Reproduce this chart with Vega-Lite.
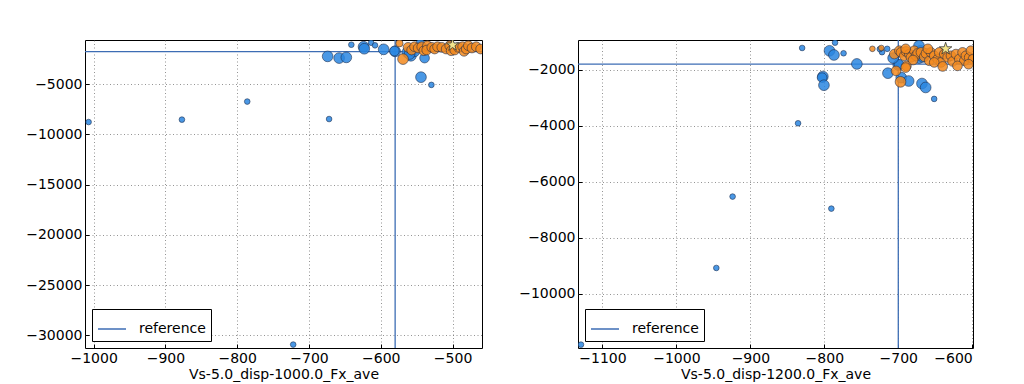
{
  "$schema": "https://vega.github.io/schema/vega-lite/v6.json",
  "background": "white",
  "padding": {"left": 25, "top": 38, "right": 0, "bottom": 0},
  "spacing": 34,
  "config": {
    "font": "DejaVu Sans",
    "view": {"stroke": "black", "strokeWidth": 1},
    "axis": {
      "labelFont": "DejaVu Sans", "labelFontSize": 14, "labelColor": "black",
      "titleFont": "DejaVu Sans", "titleFontSize": 14, "titleFontWeight": "normal", "titleColor": "black",
      "domain": false, "grid": true, "gridColor": "#666666", "gridDash": [1, 2.5], "gridWidth": 0.7,
      "tickColor": "black", "tickSize": -4, "labelPadding": 7, "titlePadding": 2, "format": "d"
    },
    "legend": {
      "labelFont": "DejaVu Sans", "labelFontSize": 14, "labelColor": "black",
      "fillColor": "white", "strokeColor": "black", "cornerRadius": 0, "padding": 5,
      "symbolType": "stroke", "symbolSize": 784, "symbolStrokeWidth": 1.5, "labelOffset": 12,
      "orient": "bottom-left", "offset": 7, "title": null
    }
  },
  "datasets": {
    "left": [
      {"x": -1007, "y": -8770, "grp": "blue", "n": 1},
      {"x": -877, "y": -8530, "grp": "blue", "n": 1},
      {"x": -786, "y": -6730, "grp": "blue", "n": 1},
      {"x": -672, "y": -8470, "grp": "blue", "n": 1},
      {"x": -722, "y": -30930, "grp": "blue", "n": 1},
      {"x": -529.5, "y": -5070, "grp": "blue", "n": 1},
      {"x": -641, "y": -1070, "grp": "blue", "n": 1},
      {"x": -613.5, "y": -870, "grp": "blue", "n": 1},
      {"x": -608, "y": -1130, "grp": "blue", "n": 1},
      {"x": -544, "y": -4300, "grp": "blue", "n": 3},
      {"x": -539, "y": -2400, "grp": "blue", "n": 2.5},
      {"x": -674, "y": -2230, "grp": "blue", "n": 3},
      {"x": -658, "y": -2400, "grp": "blue", "n": 3},
      {"x": -648, "y": -2330, "grp": "blue", "n": 3},
      {"x": -624, "y": -1270, "grp": "blue", "n": 3},
      {"x": -623, "y": -1470, "grp": "blue", "n": 3},
      {"x": -596, "y": -1530, "grp": "blue", "n": 3},
      {"x": -580, "y": -1730, "grp": "blue", "n": 3},
      {"x": -581, "y": -1700, "grp": "blue", "n": 2.5},
      {"x": -563, "y": -1830, "grp": "blue", "n": 3},
      {"x": -558, "y": -2170, "grp": "blue", "n": 3},
      {"x": -553, "y": -1730, "grp": "blue", "n": 3},
      {"x": -545, "y": -930, "grp": "blue", "n": 2},
      {"x": -560, "y": -2000, "grp": "blue", "n": 3},
      {"x": -574, "y": -930, "grp": "orange", "n": 1.5},
      {"x": -569, "y": -2500, "grp": "orange", "n": 3},
      {"x": -562, "y": -1330, "grp": "orange", "n": 2.5},
      {"x": -557, "y": -1600, "grp": "orange", "n": 2.5},
      {"x": -553, "y": -1270, "grp": "orange", "n": 2.5},
      {"x": -548, "y": -1400, "grp": "orange", "n": 2.5},
      {"x": -543, "y": -1270, "grp": "orange", "n": 2.5},
      {"x": -540, "y": -1670, "grp": "orange", "n": 2.5},
      {"x": -535, "y": -1170, "grp": "orange", "n": 2.5},
      {"x": -536, "y": -1600, "grp": "orange", "n": 2.5},
      {"x": -529, "y": -1330, "grp": "orange", "n": 2.5},
      {"x": -525, "y": -1500, "grp": "orange", "n": 2.5},
      {"x": -521, "y": -1270, "grp": "orange", "n": 2.5},
      {"x": -515, "y": -1330, "grp": "orange", "n": 2.5},
      {"x": -509, "y": -1500, "grp": "orange", "n": 2.5},
      {"x": -504, "y": -1170, "grp": "orange", "n": 2.5},
      {"x": -502, "y": -1670, "grp": "orange", "n": 2.5},
      {"x": -497, "y": -1600, "grp": "orange", "n": 2.5},
      {"x": -492, "y": -1330, "grp": "orange", "n": 2.5},
      {"x": -486, "y": -1270, "grp": "orange", "n": 2.5},
      {"x": -484, "y": -1730, "grp": "orange", "n": 2.5},
      {"x": -481, "y": -1500, "grp": "orange", "n": 2.5},
      {"x": -478, "y": -1170, "grp": "orange", "n": 2.5},
      {"x": -473, "y": -1400, "grp": "orange", "n": 2.5},
      {"x": -467, "y": -1270, "grp": "orange", "n": 2.5},
      {"x": -461, "y": -1500, "grp": "orange", "n": 2.5}
    ],
    "left_best": [{"x": -500, "y": -1100}],
    "left_ref": [{"x": -580, "label": "reference"}, {"y": -1750, "label": "reference"}],
    "right": [
      {"x": -1129, "y": -11820, "grp": "blue", "n": 1},
      {"x": -946, "y": -9080, "grp": "blue", "n": 1},
      {"x": -924, "y": -6530, "grp": "blue", "n": 1},
      {"x": -790.5, "y": -6960, "grp": "blue", "n": 1},
      {"x": -835.5, "y": -3910, "grp": "blue", "n": 1},
      {"x": -651.5, "y": -3040, "grp": "blue", "n": 1},
      {"x": -830, "y": -1220, "grp": "blue", "n": 1},
      {"x": -785.5, "y": -1030, "grp": "blue", "n": 1},
      {"x": -774, "y": -1410, "grp": "blue", "n": 1},
      {"x": -722, "y": -1370, "grp": "blue", "n": 1},
      {"x": -715, "y": -1250, "grp": "blue", "n": 1},
      {"x": -725, "y": -1260, "grp": "blue", "n": 1},
      {"x": -793, "y": -1320, "grp": "blue", "n": 3},
      {"x": -787, "y": -1470, "grp": "blue", "n": 3},
      {"x": -756, "y": -1790, "grp": "blue", "n": 3},
      {"x": -802, "y": -2240, "grp": "blue", "n": 3},
      {"x": -803, "y": -2280, "grp": "blue", "n": 2.5},
      {"x": -800.5, "y": -2550, "grp": "blue", "n": 3},
      {"x": -714, "y": -2120, "grp": "blue", "n": 3},
      {"x": -700, "y": -1830, "grp": "blue", "n": 3},
      {"x": -699, "y": -1800, "grp": "blue", "n": 2.5},
      {"x": -707, "y": -1580, "grp": "blue", "n": 3},
      {"x": -696, "y": -2280, "grp": "blue", "n": 3},
      {"x": -686, "y": -2400, "grp": "blue", "n": 3},
      {"x": -668, "y": -2490, "grp": "blue", "n": 3},
      {"x": -663, "y": -2630, "grp": "blue", "n": 3},
      {"x": -672, "y": -1580, "grp": "blue", "n": 3},
      {"x": -670, "y": -1320, "grp": "blue", "n": 3},
      {"x": -672, "y": -1140, "grp": "blue", "n": 3},
      {"x": -667, "y": -1560, "grp": "blue", "n": 2.5},
      {"x": -735, "y": -1250, "grp": "orange", "n": 1},
      {"x": -723, "y": -1220, "grp": "orange", "n": 1},
      {"x": -697, "y": -2430, "grp": "orange", "n": 3},
      {"x": -703, "y": -2040, "grp": "orange", "n": 2.5},
      {"x": -689, "y": -1860, "grp": "orange", "n": 2.5},
      {"x": -705.4, "y": -1438, "grp": "orange", "n": 2.5},
      {"x": -698.6, "y": -1318, "grp": "orange", "n": 2.5},
      {"x": -696.4, "y": -1378, "grp": "orange", "n": 2.5},
      {"x": -691.9, "y": -1498, "grp": "orange", "n": 2.5},
      {"x": -689.6, "y": -1342, "grp": "orange", "n": 2.5},
      {"x": -685.1, "y": -1438, "grp": "orange", "n": 2.5},
      {"x": -682.9, "y": -1557, "grp": "orange", "n": 2.5},
      {"x": -678.4, "y": -1318, "grp": "orange", "n": 2.5},
      {"x": -676.1, "y": -1498, "grp": "orange", "n": 2.5},
      {"x": -673.9, "y": -1414, "grp": "orange", "n": 2.5},
      {"x": -669.4, "y": -1378, "grp": "orange", "n": 2.5},
      {"x": -664.9, "y": -1534, "grp": "orange", "n": 2.5},
      {"x": -662.6, "y": -1414, "grp": "orange", "n": 2.5},
      {"x": -658.1, "y": -1677, "grp": "orange", "n": 2.5},
      {"x": -655.9, "y": -1378, "grp": "orange", "n": 2.5},
      {"x": -651.4, "y": -1498, "grp": "orange", "n": 2.5},
      {"x": -646.8, "y": -1617, "grp": "orange", "n": 2.5},
      {"x": -644.6, "y": -1378, "grp": "orange", "n": 2.5},
      {"x": -642.3, "y": -1737, "grp": "orange", "n": 2.5},
      {"x": -637.8, "y": -1438, "grp": "orange", "n": 2.5},
      {"x": -633.3, "y": -1557, "grp": "orange", "n": 2.5},
      {"x": -628.8, "y": -1498, "grp": "orange", "n": 2.5},
      {"x": -626.6, "y": -1701, "grp": "orange", "n": 2.5},
      {"x": -622.1, "y": -1438, "grp": "orange", "n": 2.5},
      {"x": -617.6, "y": -1617, "grp": "orange", "n": 2.5},
      {"x": -613.1, "y": -1378, "grp": "orange", "n": 2.5},
      {"x": -610.8, "y": -1677, "grp": "orange", "n": 2.5},
      {"x": -608.6, "y": -1498, "grp": "orange", "n": 2.5},
      {"x": -604.1, "y": -1557, "grp": "orange", "n": 2.5},
      {"x": -601.8, "y": -1318, "grp": "orange", "n": 2.5},
      {"x": -599, "y": -1617, "grp": "orange", "n": 2.5},
      {"x": -651.4, "y": -1737, "grp": "orange", "n": 2.5},
      {"x": -680, "y": -1650, "grp": "orange", "n": 2.5},
      {"x": -690, "y": -1250, "grp": "orange", "n": 2.5},
      {"x": -660, "y": -1250, "grp": "orange", "n": 2.5},
      {"x": -690, "y": -1920, "grp": "orange", "n": 2.5},
      {"x": -640, "y": -1880, "grp": "orange", "n": 2.5},
      {"x": -620, "y": -1860, "grp": "orange", "n": 2.5},
      {"x": -605, "y": -1800, "grp": "orange", "n": 2.5}
    ],
    "right_best": [{"x": -636, "y": -1250}],
    "right_ref": [{"x": -700, "label": "reference"}, {"y": -1800, "label": "reference"}]
  },
  "resolve": {
    "scale": {"x": "independent", "y": "independent", "color": "independent", "fill": "independent", "size": "independent"},
    "legend": {"color": "independent"}
  },
  "hconcat": [
    {
      "width": 397,
      "height": 308,
      "layer": [
        {
          "data": {"name": "left_ref"},
          "transform": [{"filter": "datum.x != null"}],
          "mark": {"type": "rule", "strokeWidth": 1.3},
          "encoding": {
            "x": {"field": "x", "type": "quantitative", "scale": {"domain": [-1012, -459], "nice": false, "zero": false},
                  "axis": {"values": [-1000, -900, -800, -700, -600, -500], "title": "Vs-5.0_disp-1000.0_Fx_ave"}},
            "color": {"field": "label", "type": "nominal", "scale": {"domain": ["reference"], "range": ["#3d6db4"]}}
          }
        },
        {
          "data": {"name": "left_ref"},
          "transform": [{"filter": "datum.y != null"}],
          "mark": {"type": "rule", "strokeWidth": 1.3},
          "encoding": {
            "y": {"field": "y", "type": "quantitative", "scale": {"domain": [-31270, -600], "nice": false, "zero": false},
                  "axis": {"values": [-30000, -25000, -20000, -15000, -10000, -5000], "title": null}},
            "color": {"field": "label", "type": "nominal", "scale": {"domain": ["reference"], "range": ["#3d6db4"]}}
          }
        },
        {
          "data": {"name": "left"},
          "mark": {"type": "circle", "clip": true, "stroke": "#1b2a48", "strokeWidth": 0.7, "fillOpacity": 0.85, "strokeOpacity": 0.8},
          "encoding": {
            "x": {"field": "x", "type": "quantitative", "scale": {"domain": [-1012, -459], "nice": false, "zero": false}},
            "y": {"field": "y", "type": "quantitative", "scale": {"domain": [-31270, -600], "nice": false, "zero": false}},
            "fill": {"field": "grp", "type": "nominal", "scale": {"domain": ["blue", "orange"], "range": ["#2a86e0", "#f28a1e"]}, "legend": null},
            "size": {"field": "n", "type": "quantitative", "scale": {"domain": [1, 3], "range": [32, 115]}, "legend": null}
          }
        },
        {
          "data": {"name": "left_best"},
          "mark": {"type": "point", "filled": true, "clip": true, "shape": "M0,-1L0.2245,-0.309L0.951,-0.309L0.363,0.118L0.588,0.809L0,0.382L-0.588,0.809L-0.363,0.118L-0.951,-0.309L-0.2245,-0.309Z", "size": 170, "fill": "#f3e58c", "stroke": "#333", "strokeWidth": 0.8, "opacity": 1},
          "encoding": {
            "x": {"field": "x", "type": "quantitative", "scale": {"domain": [-1012, -459], "nice": false, "zero": false}},
            "y": {"field": "y", "type": "quantitative", "scale": {"domain": [-31270, -600], "nice": false, "zero": false}}
          }
        }
      ]
    },
    {
      "width": 395,
      "height": 308,
      "layer": [
        {
          "data": {"name": "right_ref"},
          "transform": [{"filter": "datum.x != null"}],
          "mark": {"type": "rule", "strokeWidth": 1.3},
          "encoding": {
            "x": {"field": "x", "type": "quantitative", "scale": {"domain": [-1133, -599], "nice": false, "zero": false},
                  "axis": {"values": [-1100, -1000, -900, -800, -700, -600], "title": "Vs-5.0_disp-1200.0_Fx_ave"}},
            "color": {"field": "label", "type": "nominal", "scale": {"domain": ["reference"], "range": ["#3d6db4"]}}
          }
        },
        {
          "data": {"name": "right_ref"},
          "transform": [{"filter": "datum.y != null"}],
          "mark": {"type": "rule", "strokeWidth": 1.3},
          "encoding": {
            "y": {"field": "y", "type": "quantitative", "scale": {"domain": [-11940, -935], "nice": false, "zero": false},
                  "axis": {"values": [-10000, -8000, -6000, -4000, -2000], "title": null}},
            "color": {"field": "label", "type": "nominal", "scale": {"domain": ["reference"], "range": ["#3d6db4"]}}
          }
        },
        {
          "data": {"name": "right"},
          "mark": {"type": "circle", "clip": true, "stroke": "#1b2a48", "strokeWidth": 0.7, "fillOpacity": 0.85, "strokeOpacity": 0.8},
          "encoding": {
            "x": {"field": "x", "type": "quantitative", "scale": {"domain": [-1133, -599], "nice": false, "zero": false}},
            "y": {"field": "y", "type": "quantitative", "scale": {"domain": [-11940, -935], "nice": false, "zero": false}},
            "fill": {"field": "grp", "type": "nominal", "scale": {"domain": ["blue", "orange"], "range": ["#2a86e0", "#f28a1e"]}, "legend": null},
            "size": {"field": "n", "type": "quantitative", "scale": {"domain": [1, 3], "range": [32, 115]}, "legend": null}
          }
        },
        {
          "data": {"name": "right_best"},
          "mark": {"type": "point", "filled": true, "clip": true, "shape": "M0,-1L0.2245,-0.309L0.951,-0.309L0.363,0.118L0.588,0.809L0,0.382L-0.588,0.809L-0.363,0.118L-0.951,-0.309L-0.2245,-0.309Z", "size": 170, "fill": "#f3e58c", "stroke": "#333", "strokeWidth": 0.8, "opacity": 1},
          "encoding": {
            "x": {"field": "x", "type": "quantitative", "scale": {"domain": [-1133, -599], "nice": false, "zero": false}},
            "y": {"field": "y", "type": "quantitative", "scale": {"domain": [-11940, -935], "nice": false, "zero": false}}
          }
        }
      ]
    }
  ]
}
